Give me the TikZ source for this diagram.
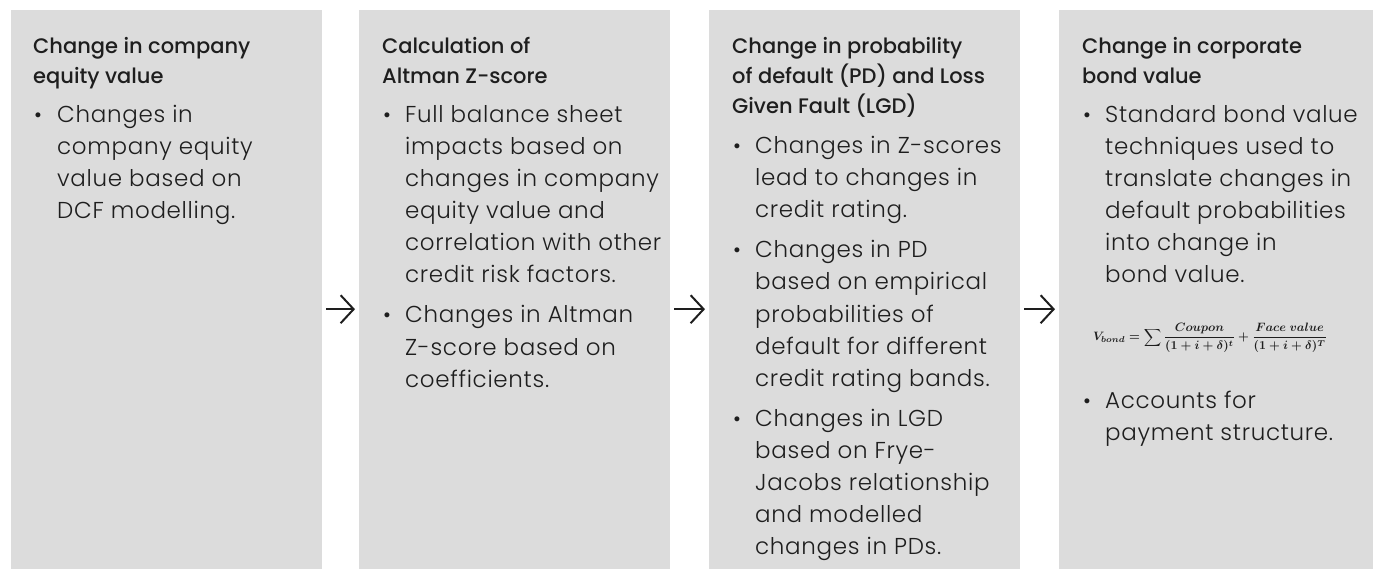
\documentclass[tikz,border=0pt]{standalone}
\usepackage{graphicx}
\usepackage{fontspec}
\setmainfont{Poppins}[UprightFont=* Light, BoldFont=* Medium]
\newfontfamily\bodyfont{Poppins Light}[LetterSpace=3]
\usetikzlibrary{arrows.meta,calc}
\definecolor{boxgray}{HTML}{DCDCDC}
\definecolor{ink}{HTML}{1E1E1E}
\newcommand\mylines[6]{%
  \foreach \t [count=\i from 0] in {#6} {\node[#5] (#1\i) at ({#2},{#3+#4*\i}) {\t};}}
\newcommand\bondeq{$V_{bond} = \displaystyle\sum \frac{Coupon}{(1+i+\delta)^t} + \frac{Face\ value}{(1+i+\delta)^T}$}
\tikzset{
  box/.style={fill=boxgray, draw=none, inner sep=0, anchor=north west, minimum width=311pt, minimum height=559pt},
  bodytxt/.style={anchor=base west, inner sep=0, text=ink, font=\bodyfont\fontsize{23}{26}\selectfont},
  titletxt/.style={anchor=base west, inner sep=0, text=ink, font=\fontsize{21}{26}\selectfont\bfseries},
  bul/.style={anchor=base west, inner sep=0, text=ink, font=\fontsize{21.5}{26}\selectfont},
  arr/.style={line width=2pt, ink, -{Straight Barb[length=13pt,width=28pt,line width=2pt]}},
}
\begin{document}
\begin{tikzpicture}[x=1pt,y=-1pt]
\useasboundingbox (0,0) rectangle (1373,569);
\node[box] (b1) at (11,10) {};
\node[box] (b2) at (359,10) {};
\node[box] (b3) at (709,10) {};
\node[box, minimum width=314pt] (b4) at (1059,10) {};
% box 1
\mylines{t1-}{33}{54}{30}{titletxt}{{Change in company},{equity value}}
\node[bul] (u1a) at (34,123) {\textbullet};
\mylines{p1a-}{57}{123}{32}{bodytxt}{{Changes in},{company equity},{value based on},{DCF modelling.}}
% box 2
\mylines{t2-}{382}{54}{30}{titletxt}{{Calculation of},{Altman Z-score}}
\node[bul] (u2a) at (383,123) {\textbullet};
\mylines{p2a-}{405}{123}{32}{bodytxt}{{Full balance sheet},{impacts based on},{changes in company},{equity value and},{correlation with other},{credit risk factors.}}
\node[bul] (u2b) at (383,323) {\textbullet};
\mylines{p2b-}{405}{323}{32}{bodytxt}{{Changes in Altman},{Z-score based on},{coefficients.}}
% box 3
\mylines{t3-}{732}{54}{30}{titletxt}{{Change in probability},{of default (PD) and Loss},{Given Fault (LGD)}}
\node[bul] (u3a) at (733,154) {\textbullet};
\mylines{p3a-}{755}{154}{32}{bodytxt}{{Changes in Z-scores},{lead to changes in},{credit rating.}}
\node[bul] (u3b) at (733,258) {\textbullet};
\mylines{p3b-}{755}{258}{32}{bodytxt}{{Changes in PD},{based on empirical},{probabilities of},{default for different},{credit rating bands.}}
\node[bul] (u3c) at (733,426) {\textbullet};
\mylines{p3c-}{755}{426}{32}{bodytxt}{{Changes in LGD},{based on Frye-},{Jacobs relationship},{and modelled},{changes in PDs.}}
% box 4
\mylines{t4-}{1082}{54}{30}{titletxt}{{Change in corporate},{bond value}}
\node[bul] (u4a) at (1083,123) {\textbullet};
\mylines{p4a-}{1105}{123}{32}{bodytxt}{{Standard bond value},{techniques used to},{translate changes in},{default probabilities},{into change in},{bond value.}}
\node[inner sep=0, text=ink, font=\boldmath] (eq) at (1210,338) {\resizebox{234pt}{!}{\bondeq}};
\node[bul] (u4b) at (1083,408) {\textbullet};
\mylines{p4b-}{1105}{408}{32}{bodytxt}{{Accounts for},{payment structure.}}
% arrows
\draw[arr] ($(b1.east)+(4,19.5)$) -- ($(b2.west)+(-4,19.5)$);
\draw[arr] ($(b2.east)+(4,19.5)$) -- ($(b3.west)+(-4,19.5)$);
\draw[arr] ($(b3.east)+(4,19.5)$) -- ($(b4.west)+(-4,19.5)$);
\end{tikzpicture}
\end{document}
